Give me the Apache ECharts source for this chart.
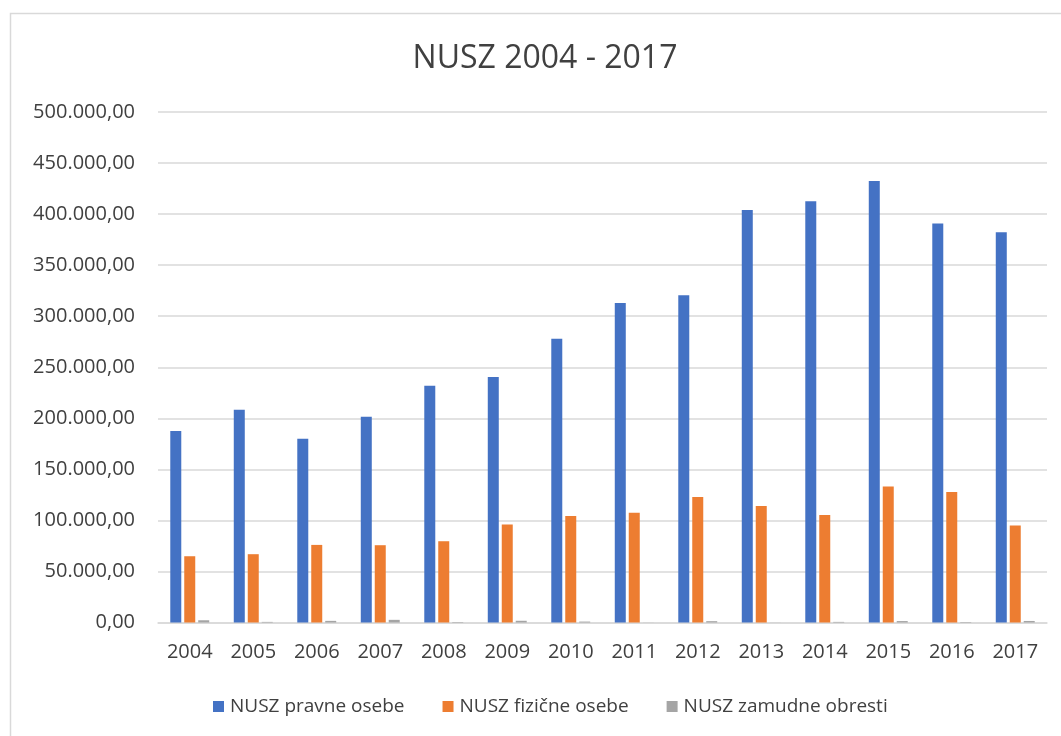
<!DOCTYPE html>
<html>
<head>
<meta charset="utf-8">
<script src="https://cdn.jsdelivr.net/npm/echarts@6/dist/echarts.min.js"></script>
<style>
html,body{margin:0;padding:0;background:#fff;}
#chart{width:1061px;height:736px;}
</style>
</head>
<body>
<div id="chart"></div>
<script>
const titleText = 'NUSZ 2004 - 2017';
const years = ['2004','2005','2006','2007','2008','2009','2010','2011','2012','2013','2014','2015','2016','2017'];
const seriesNames = ['NUSZ pravne osebe','NUSZ fizične osebe','NUSZ zamudne obresti'];
const pravne = [187500,208300,179900,201500,231900,240400,278000,313000,320400,404100,412500,432500,390700,382200];
const fizicne = [64900,66900,76000,75700,79600,95900,104400,107600,123000,114200,105400,133100,127900,94900];
const zamudne = [2200,600,1600,2600,500,1700,900,100,1300,100,600,1400,500,1500];
const colors = ['#4472C4','#ED7D31','#A5A5A5'];

function fmt(v){
  const parts = Math.round(v).toString().replace(/\B(?=(\d{3})+(?!\d))/g,'.');
  return parts + ',00';
}

const chart = echarts.init(document.getElementById('chart'));
const font = '"Open Sans", sans-serif';
const textColor = '#404040';
const mkBar = (name, data, color) => ({
  name, type:'bar', data, barWidth:11, barGap:'27%',
  itemStyle:{color}
});
chart.setOption({
  animation:false,
  color:colors,
  title:{
    text:titleText, left:540, textAlign:'center', top:38,
    textStyle:{fontFamily:font, fontSize:32, fontWeight:'normal', color:textColor}
  },
  graphic:[{
    type:'rect', shape:{x:10.5, y:13.5, width:1060, height:730},
    style:{fill:'none', stroke:'#d9d9d9', lineWidth:1.5}, silent:true
  }],
  legend:{
    left:213, top:697, padding:0, itemWidth:11, itemHeight:11, itemGap:38,
    icon:'rect',
    textStyle:{fontFamily:font, fontSize:19, color:textColor, padding:[0,0,0,1]},
    data:seriesNames
  },
  grid:{left:158, right:14, top:112, bottom:113.5, containLabel:false},
  xAxis:{
    type:'category', data:years,
    axisLine:{lineStyle:{color:'#d9d9d9', width:1.5}},
    axisTick:{show:false},
    axisLabel:{fontFamily:font, fontSize:20, color:textColor, margin:20}
  },
  yAxis:{
    type:'value', min:0, max:500000, interval:50000,
    axisLine:{show:false}, axisTick:{show:false},
    splitLine:{lineStyle:{color:'#d9d9d9', width:1.5}},
    axisLabel:{fontFamily:font, fontSize:20, color:textColor, margin:23, formatter:fmt}
  },
  series:[
    mkBar(seriesNames[0], pravne, colors[0]),
    mkBar(seriesNames[1], fizicne, colors[1]),
    mkBar(seriesNames[2], zamudne, colors[2])
  ]
});
</script>
</body>
</html>
